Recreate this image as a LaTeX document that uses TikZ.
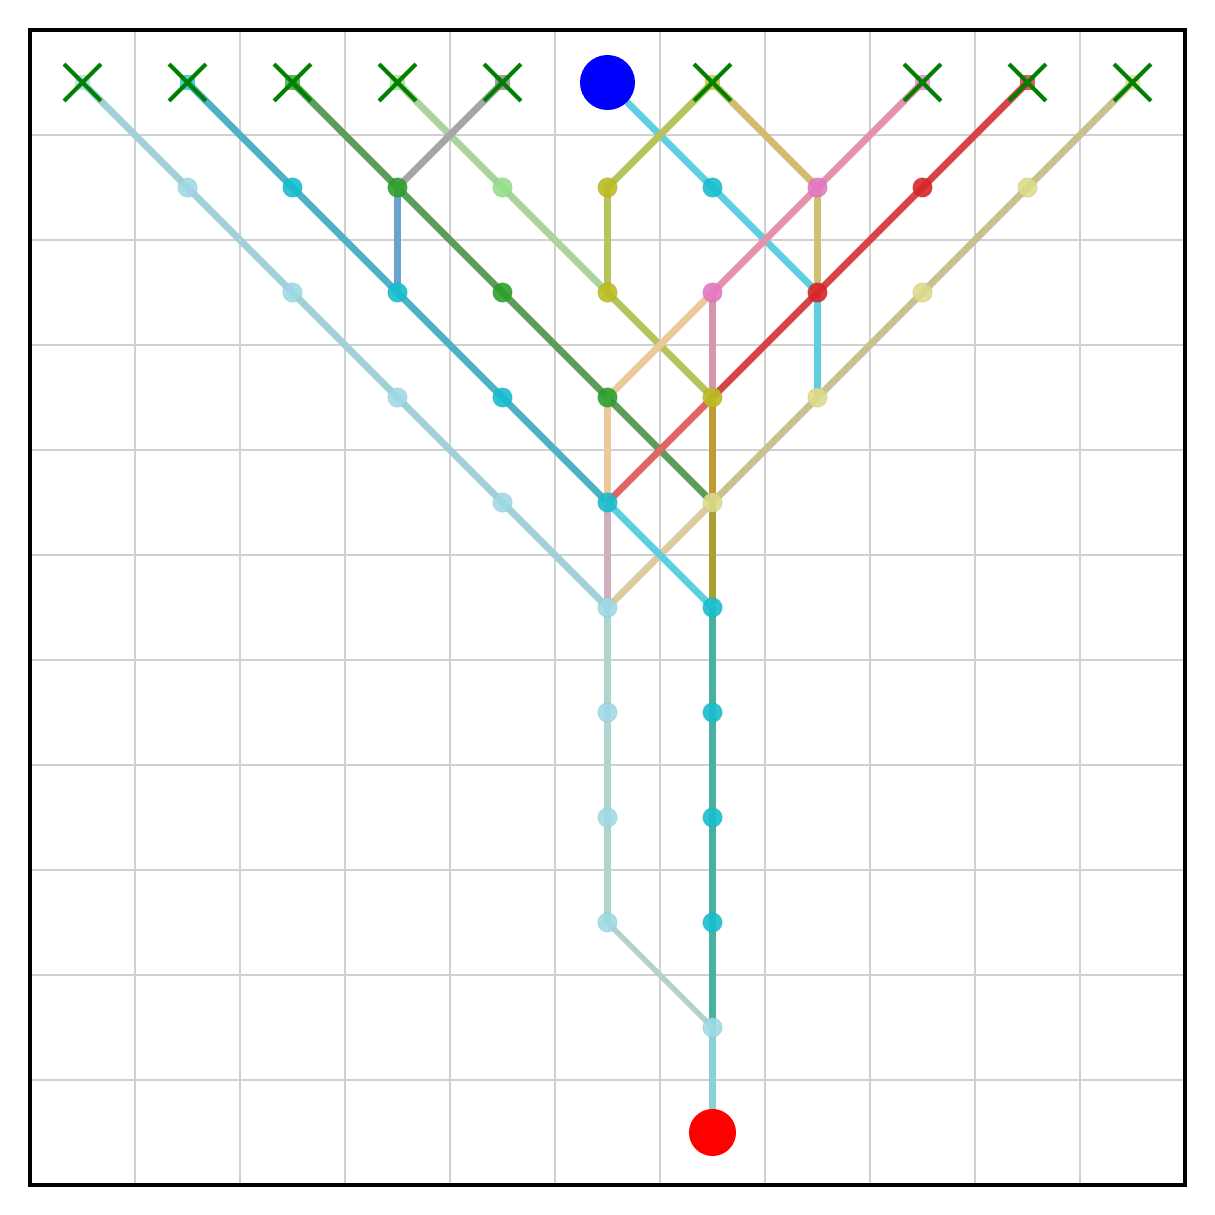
\documentclass[tikz,border=0pt]{standalone}
\usepackage{tikz}
\usetikzlibrary{calc}
\definecolor{cLB}{HTML}{9EDAE5}
\definecolor{cCY}{HTML}{17BECF}
\definecolor{cGR}{HTML}{2CA02C}
\definecolor{cLG}{HTML}{98DF8A}
\definecolor{cOL}{HTML}{BCBD22}
\definecolor{cPK}{HTML}{E377C2}
\definecolor{cRD}{HTML}{D62728}
\definecolor{cLO}{HTML}{DBDB8D}
\definecolor{cGY}{HTML}{7F7F7F}
\definecolor{cMK}{HTML}{008000}
\tikzset{
  seg/.style={line width=1.85pt, line cap=butt, line join=round},
  dot/.style={circle, inner sep=0pt, minimum size=0.185cm, fill=#1, fill opacity=0.9, draw=#1!85!black, draw opacity=0.25, line width=0.3pt},
  sqm/.style={rectangle, inner sep=0pt, minimum size=0.14cm, fill=#1, fill opacity=0.75},
  xmark/.style={line width=1.1pt, draw=cMK},
  gridln/.style={draw=black!18, line width=0.55pt},
}
\begin{document}
\begin{tikzpicture}[x=1cm,y=1cm]
\useasboundingbox (-0.2857,0.2857) rectangle (11.2857,-11.2857);
% grid
\foreach \k in {1,...,10} {
  \draw[gridln] (\k,0) -- (\k,-11);
  \draw[gridln] (0,-\k) -- (11,-\k);
}
% coordinates
\foreach \i in {0,...,10} {
  \foreach \j in {0,...,10} {
    \coordinate (p-\i-\j) at (\i+0.5,-\j-0.5);
  }
}
% segments
\draw[seg, color={rgb,255:red,163;green,208;blue,216}] (p-0-0) -- (p-1-1) -- (p-2-2) -- (p-3-3) -- (p-4-4) -- (p-5-5);
\draw[seg, color={rgb,255:red,77;green,179;blue,201}] (p-1-0) -- (p-2-1) -- (p-3-2) -- (p-4-3) -- (p-5-4);
\draw[seg, color={rgb,255:red,91;green,158;blue,91}] (p-2-0) -- (p-3-1) -- (p-4-2) -- (p-5-3) -- (p-6-4);
\draw[seg, color={rgb,255:red,106;green,164;blue,204}] (p-3-1) -- (p-3-2);
\draw[seg, color={rgb,255:red,169;green,212;blue,159}] (p-3-0) -- (p-4-1) -- (p-5-2);
\draw[seg, color={rgb,255:red,166;green,166;blue,166}] (p-4-0) -- (p-3-1);
\draw[seg, color={rgb,255:red,93;green,207;blue,224}] (p-5-0) -- (p-6-1) -- (p-7-2) -- (p-7-3);
\draw[seg, color={rgb,255:red,183;green,196;blue,92}] (p-6-0) -- (p-5-1) -- (p-5-2) -- (p-6-3);
\draw[seg, color={rgb,255:red,210;green,188;blue,114}] (p-6-0) -- (p-7-1);
\draw[seg, color={rgb,255:red,207;green,191;blue,114}] (p-7-1) -- (p-7-2);
\draw[seg, color={rgb,255:red,230;green,144;blue,174}] (p-8-0) -- (p-7-1) -- (p-6-2);
\draw[seg, color={rgb,255:red,217;green,148;blue,176}] (p-6-2) -- (p-6-3);
\draw[seg, color={rgb,255:red,235;green,201;blue,155}] (p-6-2) -- (p-5-3) -- (p-5-4);
\draw[seg, color={rgb,255:red,214;green,69;blue,69}] (p-9-0) -- (p-8-1) -- (p-7-2) -- (p-6-3);
\draw[seg, color={rgb,255:red,224;green,102;blue,102}] (p-6-3) -- (p-5-4);
\draw[seg, color={rgb,255:red,200;green,192;blue,142}] (p-10-0) -- (p-9-1) -- (p-8-2) -- (p-7-3) -- (p-6-4);
\draw[seg, color={rgb,255:red,220;green,203;blue,158}] (p-6-4) -- (p-5-5);
\draw[seg, color={rgb,255:red,194;green,154;blue,52}] (p-6-3) -- (p-6-4);
\draw[seg, color={rgb,255:red,168;green,160;blue,53}] (p-6-4) -- (p-6-5);
\draw[seg, color={rgb,255:red,207;green,176;blue,192}] (p-5-4) -- (p-5-5);
\draw[seg, color={rgb,255:red,93;green,208;blue,224}] (p-5-4) -- (p-6-5);
\draw[seg, color={rgb,255:red,76;green,176;blue,160}] (p-6-5) -- (p-6-9);
\draw[seg, color={rgb,255:red,176;green,212;blue,206}] (p-5-5) -- (p-5-8);
\draw[seg, line width=1.5pt, color={rgb,255:red,179;green,210;blue,200}] (p-5-8) -- (p-6-9);
\draw[seg, color={rgb,255:red,138;green,210;blue,212}] (p-6-9) -- (p-6-10);
% dots
\foreach \i/\j/\c in {1/1/cLB,2/2/cLB,3/3/cLB,4/4/cLB,5/5/cLB,5/6/cLB,5/7/cLB,5/8/cLB,6/9/cLB,
  2/1/cCY,3/2/cCY,4/3/cCY,5/4/cCY,6/1/cCY,6/5/cCY,6/6/cCY,6/7/cCY,6/8/cCY,
  3/1/cGR,4/2/cGR,5/3/cGR,4/1/cLG,5/1/cOL,5/2/cOL,6/3/cOL,
  7/1/cPK,6/2/cPK,8/1/cRD,7/2/cRD,9/1/cLO,8/2/cLO,7/3/cLO,6/4/cLO} {
  \node[dot=\c] (d-\i-\j) at (p-\i-\j) {};
}
% start squares
\foreach \i/\c in {0/cLB,1/cCY,2/cGR,3/cLG,4/cGY,6/cOL,8/cPK,9/cRD,10/cLO} {
  \node[sqm=\c] (s-\i) at (p-\i-0) {};
  \draw[xmark] ($(p-\i-0)+(-0.176,0.176)$) -- ($(p-\i-0)+(0.176,-0.176)$);
  \draw[xmark] ($(p-\i-0)+(-0.176,-0.176)$) -- ($(p-\i-0)+(0.176,0.176)$);
}
% start and goal
\node[circle, fill=blue, inner sep=0pt, minimum size=0.524cm] (start) at (p-5-0) {};
\node[circle, fill=red, inner sep=0pt, minimum size=0.448cm] (goal) at (p-6-10) {};
% frame
\draw[black, line width=0.85pt] (0,0) rectangle (11,-11);
\end{tikzpicture}
\end{document}
